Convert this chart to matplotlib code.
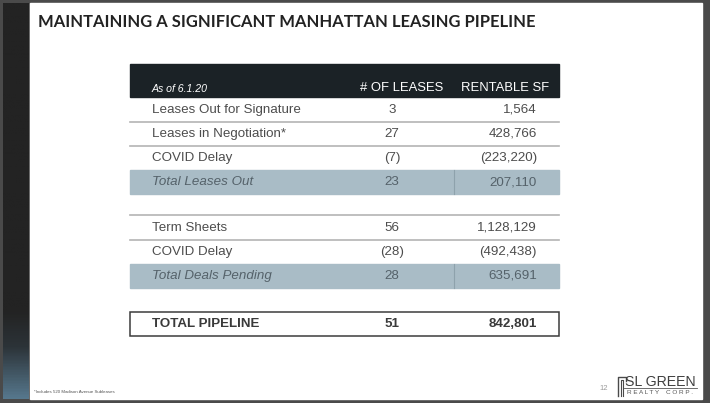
import numpy as np
import matplotlib.pyplot as plt
from matplotlib.colors import LinearSegmentedColormap
from matplotlib.patches import Rectangle

# Table data
title = "MAINTAINING A SIGNIFICANT MANHATTAN LEASING PIPELINE"
as_of = "As of 6.1.20"
col_headers = ["# OF LEASES", "RENTABLE SF"]

leases_out_labels = ["Leases Out for Signature", "Leases in Negotiation*", "COVID Delay"]
leases_out_count = [3, 27, -7]
leases_out_sf = [1564, 428766, -223220]
leases_out_total = ("Total Leases Out", 23, 207110)

pending_labels = ["Term Sheets", "COVID Delay"]
pending_count = [56, -28]
pending_sf = [1128129, -492438]
pending_total = ("Total Deals Pending", 28, 635691)

pipeline_total = ("TOTAL PIPELINE", 51, 842801)

footnote = "*Includes 520 Madison Avenue Subleases"
page_no = "12"

FONT = "Liberation Sans"
TEXT = "#4d4d4d"
SHADE = "#a9bcc6"
RULE = "#b4b4b4"


def fmt(v):
    s = f"{abs(v):,}"
    return f"({s})" if v < 0 else s


fig = plt.figure(figsize=(7.10, 4.03), dpi=100, facecolor="#4a4a4a")
ax = fig.add_axes([0, 0, 1, 1])
ax.set_xlim(0, 710)
ax.set_ylim(403, 0)
ax.axis("off")

# slide frame
ax.add_patch(Rectangle((30, 3), 672, 396, color="white", zorder=0))
grad = LinearSegmentedColormap.from_list(
    "side", [(0, "#232323"), (0.78, "#232323"), (0.87, "#2c3338"), (1, "#56778c")])
ax.imshow(np.linspace(0, 1, 400).reshape(-1, 1), cmap=grad, aspect="auto",
          extent=(3, 29, 399, 3), zorder=0)

ax.text(38, 22, title, fontsize=11.9, family="Lato", weight="bold", color="#222222",
        va="center", ha="left")

# table geometry
x0, x1 = 130, 559
x_label = 152
x_cnt = 392
x_sf = 537
x_split = 454
row_h = 24.2

# header band
ax.add_patch(Rectangle((x0, 64), x1 - x0, 33, color="#1b2226", zorder=1))
ax.text(x_label, 89, as_of, fontsize=7.6, style="italic", family=FONT,
        color="white", va="center")
ax.text(402, 88, col_headers[0], fontsize=9.4, family=FONT, color="white",
        va="center", ha="center")
ax.text(505, 88, col_headers[1], fontsize=9.4, family=FONT, color="white",
        va="center", ha="center")


def section(top, labels, counts, sfs, total):
    for i, (lab, c, s) in enumerate(zip(labels, counts, sfs)):
        yc = top + row_h * (i + 0.5)
        ax.text(x_label, yc, lab, fontsize=9.6, family=FONT, color=TEXT, va="center")
        ax.text(x_cnt, yc, fmt(c), fontsize=9.6, family=FONT, color=TEXT,
                va="center", ha="center")
        ax.text(x_sf, yc, fmt(s), fontsize=9.6, family=FONT, color=TEXT,
                va="center", ha="right")
        if i > 0:
            ax.plot([x0, x1], [top + row_h * i] * 2, color=RULE, lw=1.2, zorder=2)
    ytop = top + row_h * len(labels)
    ax.add_patch(Rectangle((x0, ytop), x1 - x0, row_h, color=SHADE, zorder=1))
    ax.plot([x_split, x_split], [ytop, ytop + row_h], color="#8ea2ac", lw=0.8, zorder=2)
    yc = ytop + row_h / 2
    ax.text(x_label, yc, total[0], fontsize=9.6, family=FONT, style="italic",
            color="#55626a", va="center")
    ax.text(x_cnt, yc, fmt(total[1]), fontsize=9.6, family=FONT, color="#55626a",
            va="center", ha="center")
    ax.text(x_sf, yc, fmt(total[2]), fontsize=9.6, family=FONT, color="#55626a",
            va="center", ha="right")


section(97.5, leases_out_labels, leases_out_count, leases_out_sf, leases_out_total)
ax.plot([x0, x1], [215, 215], color=RULE, lw=1.2, zorder=2)
section(215.5, pending_labels, pending_count, pending_sf, pending_total)

# total pipeline box
ax.add_patch(Rectangle((x0, 312), x1 - x0, 24, facecolor="white",
                       edgecolor="#3c3c3c", lw=1.1, zorder=2))
ax.text(x_label, 324, pipeline_total[0], fontsize=9.6, family=FONT, weight="bold",
        color="#3a3a3a", va="center", zorder=3)
ax.text(x_cnt, 324, fmt(pipeline_total[1]), fontsize=9.6, family=FONT, weight="bold",
        color="#3a3a3a", va="center", ha="center", zorder=3)
ax.text(x_sf, 324, fmt(pipeline_total[2]), fontsize=9.6, family=FONT, weight="bold",
        color="#3a3a3a", va="center", ha="right", zorder=3)

# footer
ax.text(34, 392, footnote, fontsize=3.2, family=FONT, color="#555555", va="center")
ax.text(604, 388, page_no, fontsize=5.5, family=FONT, color="#9a9a9a",
        va="center", ha="center")

# logo
ax.plot([618, 618, 626, 626], [396, 377, 377, 381], color="#4a4a4a", lw=1.0)
ax.plot([621, 621, 623, 623], [396, 380, 380, 396], color="#4a4a4a", lw=0.8)
ax.text(625, 382, "SL GREEN", fontsize=10.2, family=FONT, color="#3f3f3f",
        va="center", ha="left")
ax.plot([624, 697], [388, 388], color="#555555", lw=0.6)
ax.text(627, 393, "R E A L T Y    C O R P .", fontsize=4.6, family=FONT,
        color="#555555", va="center", ha="left")

fig.savefig("out.png", dpi=100, facecolor=fig.get_facecolor())
